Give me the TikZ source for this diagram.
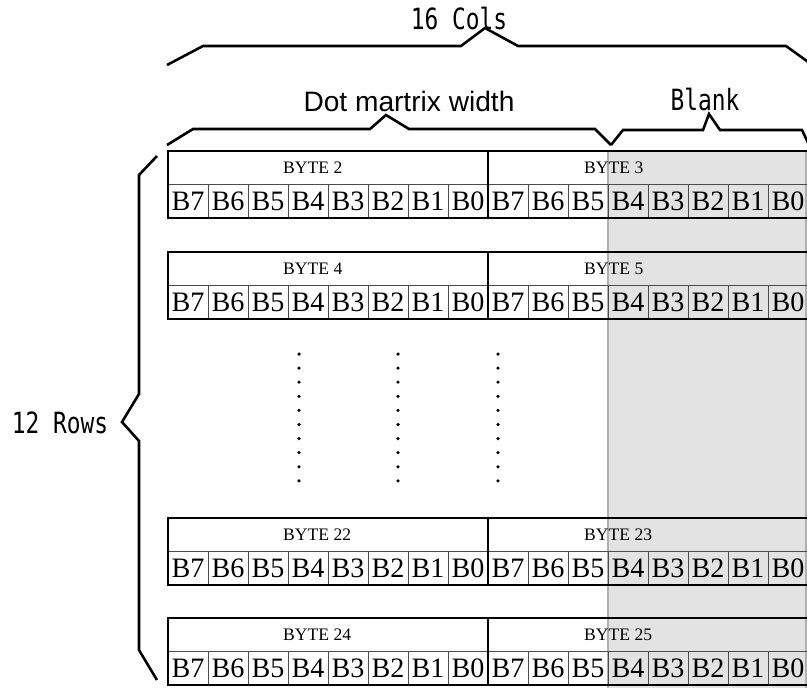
\documentclass[tikz,border=0pt]{standalone}
\usepackage{fontspec}
\setmainfont{Liberation Serif}
\newfontfamily\gothfont{DejaVu Sans Mono}
\newfontfamily\arialfont{Liberation Sans}
\definecolor{blankfill}{HTML}{E3E3E3}
\definecolor{blankline}{HTML}{B0B0B0}
\newcommand{\tallgoth}[1]{\scalebox{1}[1.28]{#1}}
\tikzset{
  brace/.style={line width=2.2pt, line join=miter},
  frame/.style={line width=2.2pt},
  sep/.style={line width=0.7pt, color=black!70},
  bitlabel/.style={inner sep=0pt, font=\fontsize{24}{24}\selectfont},
  bytelabel/.style={inner sep=0pt, anchor=west, font=\fontsize{15}{15}\selectfont},
  gothlabel/.style={inner sep=0pt, anchor=base, font=\gothfont\fontsize{19.5}{20}\selectfont},
}

\begin{document}
\begin{tikzpicture}[x=0.03cm, y=-0.03cm]
  \useasboundingbox (0,0) rectangle (807,687);
  % blank area
  \fill[blankfill] (608,151) rectangle (820,700);
  \draw[blankline, line width=2.2pt] (608,151) -- (608,700);
  \draw[blankline, line width=1.5pt] (806,151) -- (806,700);

  \foreach \n/\ytop/\blo/\bhi in {1/151/2/3, 2/252/4/5, 3/518/22/23, 4/618/24/25}
  {
    \node[bytelabel] (byte\blo) at (283,\ytop+17) {BYTE \blo};
    \node[bytelabel] (byte\bhi) at (584,\ytop+17) {BYTE \bhi};
    \foreach \i [evaluate=\i as \bitno using {int(7-mod(\i,8))}] in {0,...,15}
      \node[bitlabel] (r\n-\i) at (188+40*\i,\ytop+50.5) {B\bitno};
    \foreach \i in {1,...,15}
      \draw[sep] (168+40*\i,\ytop+33) -- (168+40*\i,\ytop+67);
    \draw[sep] (168,\ytop+33) -- (808,\ytop+33);
    \draw[frame] (168,\ytop) rectangle (808,\ytop+67);
    \draw[frame] (488,\ytop) -- (488,\ytop+67);
  }

  % dots between the rows
  \foreach \x in {299,398,498}
    \foreach \k in {0,...,9}
      \fill (\x,354+14.1*\k) circle (1.5pt);

  % braces
  \draw[brace] (167,65) -- (203,46) -- (461,46) -- (485,28) -- (518,46)
    -- (786,46) -- (811,64);
  \draw[brace] (167,145) -- (193,129) -- (370,129) -- (386,115) -- (409,129)
    -- (595,129) -- (611,145);
  \draw[brace] (611,145) -- (623,130) -- (703,130) -- (709,114) -- (720,130)
    -- (802,130) -- (810,147);
  \draw[brace] (157,156) -- (139,175) -- (139,394) -- (122,422) -- (139,441)
    -- (139,650) -- (157,680);

  \node[gothlabel] (cols) at (459,29) {\tallgoth{16 Cols}};
  \node[inner sep=0pt, anchor=base, font=\arialfont\fontsize{24}{24}\selectfont]
    (dotwidth) at (409,111) {Dot martrix width};
  \node[gothlabel] (blank) at (705,110) {\tallgoth{Blank}};
  \node[gothlabel] (rows) at (60,433) {\tallgoth{12 Rows}};
\end{tikzpicture}
\end{document}
